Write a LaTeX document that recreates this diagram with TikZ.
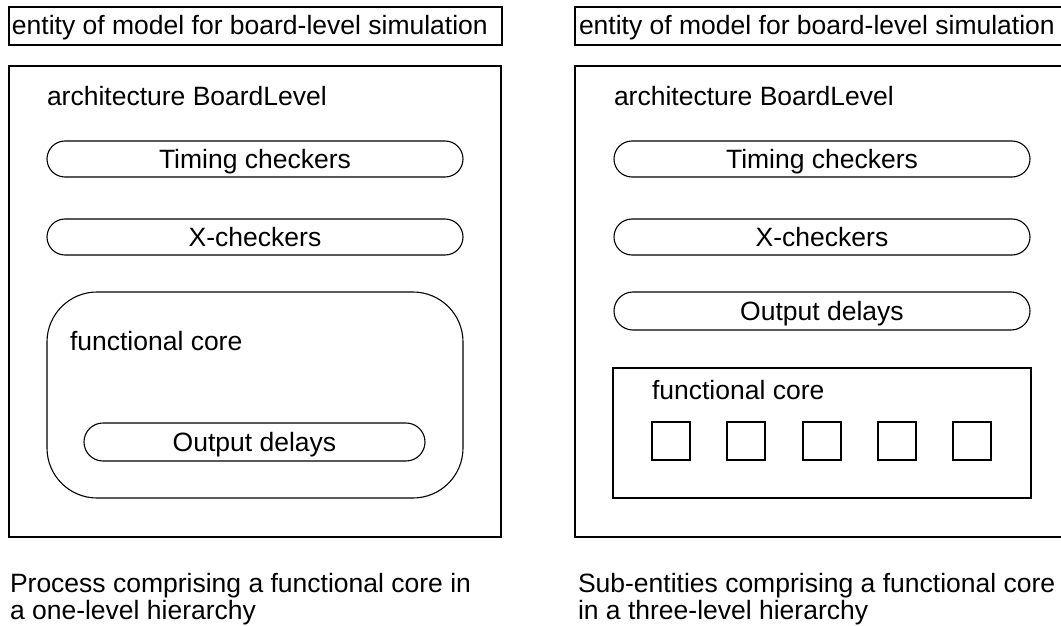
\documentclass[tikz,border=0pt]{standalone}
\usepackage{fontspec}
\setmainfont{Liberation Sans}
\begin{document}
\begin{tikzpicture}[x=1pt,y=-1pt,
  every node/.style={inner sep=0pt,outer sep=0pt},
  box/.style={draw,line width=1.1pt,rectangle},
  pill/.style={draw,line width=1.1pt,rectangle,rounded corners=18pt,text height=19pt,text depth=0pt,font=\fontsize{26.5}{30}\selectfont},
  lbl/.style={anchor=base west,font=\fontsize{26.5}{30}\selectfont},
  captext/.style={anchor=base west,font=\fontsize{26.5}{26.5}\selectfont,align=left},
  sq/.style={draw,line width=1.1pt,rectangle,minimum width=38pt,minimum height=38pt,anchor=north west}]
\useasboundingbox (0,0) rectangle (1061,626);
\clip (0,0) rectangle (1061,626);
% ---------- left ----------
\node[box,minimum width=493pt,minimum height=38pt] (entL) at (255.5,26) {};
\node[lbl] (entLt) at (12,35) {entity of model for board-level simulation};
\node[box,minimum width=492pt,minimum height=471pt] (archL) at (255,301.5) {};
\node[lbl] (archLt) at (47,106) {architecture BoardLevel};
\node[pill,minimum width=416pt,minimum height=36pt] (timL) at (255,159) {Timing checkers};
\node[pill,minimum width=416pt,minimum height=36pt] (xL) at (255,237) {X-checkers};
\node[box,rounded corners=50pt,minimum width=416pt,minimum height=206pt] (coreL) at (255,395) {};
\node[lbl] (coreLt) at (70,350) {functional core};
\node[pill,minimum width=341pt,minimum height=38pt,rounded corners=19pt] (outL) at (254.5,442) {Output delays};
\node[captext] (capL) at (10,619) {Process comprising a functional core in\\a one-level hierarchy};
% ---------- right ----------
\node[box,minimum width=500pt,minimum height=38pt] (entR) at (825,26) {};
\node[lbl] (entRt) at (579,35) {entity of model for board-level simulation};
\node[box,minimum width=500pt,minimum height=471pt] (archR) at (825,301.5) {};
\node[lbl] (archRt) at (614,106) {architecture BoardLevel};
\node[pill,minimum width=416pt,minimum height=36pt] (timR) at (822,159) {Timing checkers};
\node[pill,minimum width=416pt,minimum height=36pt] (xR) at (822,237) {X-checkers};
\node[pill,minimum width=416pt,minimum height=38pt,rounded corners=19pt] (outR) at (822,311) {Output delays};
\node[box,minimum width=418pt,minimum height=130pt] (coreR) at (822,433) {};
\node[lbl] (coreRt) at (652,399) {functional core};
\node[sq] (s1) at (652,422) {};
\node[sq] (s2) at (727,422) {};
\node[sq] (s3) at (803,422) {};
\node[sq] (s4) at (878,422) {};
\node[sq] (s5) at (953,422) {};
\node[captext] (capR) at (578,619) {Sub-entities comprising a functional core\\in a three-level hierarchy};
\end{tikzpicture}
\end{document}
